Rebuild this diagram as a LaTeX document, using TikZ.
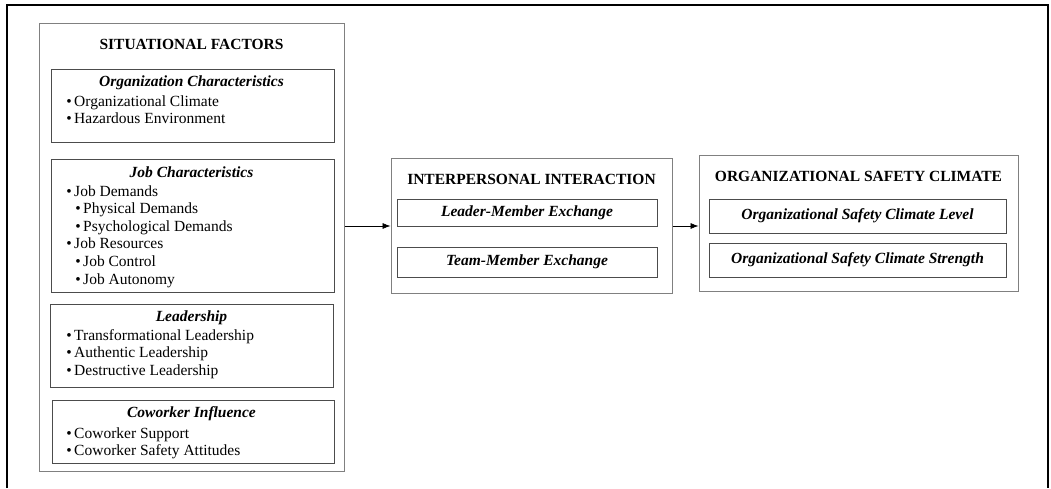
\documentclass[tikz,border=0pt]{standalone}
\usepackage{fontspec}
\setmainfont{Liberation Serif}
\usetikzlibrary{calc, arrows.meta}
\newcommand{\diagfont}{\fontsize{15.5}{17.6}\selectfont}
\newcommand{\itm}{\textbullet\kern2.5pt}
\newcommand{\subitm}{\hspace*{9pt}\textbullet\kern2.5pt}

\begin{document}
\begin{tikzpicture}[x=1pt, y=1pt, >={Latex[length=8pt, width=6pt]}, semithick, font=\diagfont]
            \tikzset{
                group/.style={draw=black!50, line width=1pt, inner sep=0pt},
                panel/.style={draw=black!70, line width=0.9pt, inner sep=0pt},
                heading/.style={font=\diagfont\bfseries\itshape, inner sep=0pt},
                caption/.style={font=\diagfont\bfseries, inner sep=0pt},
                items/.style={align=left, anchor=north west, inner sep=0pt}
            };
            \useasboundingbox (0, 0) rectangle (1051, 488);
            \draw[line width=2.5pt] (7, 0) |- (1048, 483) -- (1048, 0);
            % situational factors
            \node[group, minimum width=305pt, minimum height=447pt] (sf) at (191.5, 240.5) {};
            \node[caption] (sft) at (191.5, 444) {SITUATIONAL FACTORS};
            \node[panel, minimum width=283pt, minimum height=73pt] (org) at (192.5, 382.5) {};
            \node[panel, minimum width=283pt, minimum height=133pt] (job) at (192.5, 262.5) {};
            \node[panel, minimum width=283pt, minimum height=83pt] (lead) at (191.5, 142.5) {};
            \node[panel, minimum width=282pt, minimum height=63pt] (cow) at (193, 56.5) {};
            \node[heading] (orgt) at (191.5, 405) {Organization Characteristics};
            \node[heading] (jobt) at (191.5, 316) {Job Characteristics};
            \node[heading] (leadt) at (191.5, 170) {Leadership};
            \node[heading] (cowt) at (191.5, 74) {Coworker Influence};
            \node[items] (orgl) at (66, 393) {\itm Organizational Climate\\ \itm Hazardous Environment};
            \node[items] (jobl) at (66, 303) {\itm Job Demands\\ \subitm Physical Demands\\ \subitm Psychological Demands\\
                \itm Job Resources\\ \subitm Job Control\\ \subitm Job Autonomy};
            \node[items] (leadl) at (66, 159) {\itm Transformational Leadership\\ \itm Authentic Leadership\\ \itm Destructive Leadership};
            \node[items] (cowl) at (66, 61) {\itm Coworker Support\\ \itm Coworker Safety Attitudes};
            % interpersonal interaction
            \node[group, minimum width=281pt, minimum height=134pt] (ii) at (531.5, 262) {};
            \node[caption] (iit) at (531.5, 309) {INTERPERSONAL INTERACTION};
            \node[panel, heading, minimum width=260pt, minimum height=27pt] (lmx) at (527, 275.5) {Leader-Member Exchange};
            \node[panel, heading, minimum width=260pt, minimum height=30pt] (tmx) at (527, 226) {Team-Member Exchange};
            % organizational safety climate
            \node[group, minimum width=319pt, minimum height=135pt] (osc) at (858.5, 264.5) {};
            \node[caption] (osct) at (858.5, 312) {ORGANIZATIONAL SAFETY CLIMATE};
            \node[panel, heading, minimum width=297pt, minimum height=34pt] (lvl) at (857.5, 272) {Organizational Safety Climate Level};
            \node[panel, heading, minimum width=297pt, minimum height=34pt] (str) at (857.5, 228) {Organizational Safety Climate Strength};
            \draw[->] (sf.east |- ii.west) -- (ii.west);
            \draw[->] (ii.east) -- (osc.west |- ii.east);
        \end{tikzpicture}
\end{document}
